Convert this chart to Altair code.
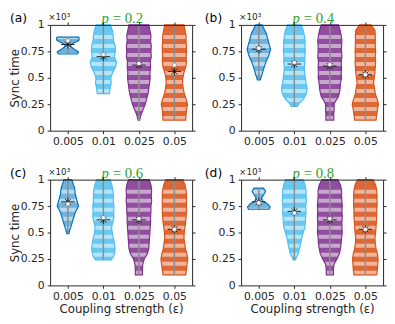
import altair as alt
import pandas as pd

CATS = ["0.005", "0.01", "0.025", "0.05"]
COLORS = ["#0072BD", "#4DBEEE", "#7E2F8E", "#D95319"]
FILL_ALPHA = [0.55, 0.85, 0.85, 0.88]
TAGS = ["(a)", "(b)", "(c)", "(d)"]
P_VALUES = ["0.2", "0.4", "0.6", "0.8"]
GREEN = "#2ca02c"
INK = "#262626"

Y_TICKS = [0, 0.25, 0.5, 0.75, 1]
# light stripes (dense-value gaps) shared by all violins, in units of 10^3
STRIPES = [0.12, 0.205, 0.29, 0.375, 0.46, 0.545, 0.63, 0.715, 0.80, 0.885]

Y19 = [0.10, 0.15, 0.20, 0.25, 0.30, 0.35, 0.40, 0.45, 0.50, 0.55,
       0.60, 0.65, 0.70, 0.75, 0.80, 0.85, 0.90, 0.95, 1.0]

# ---- panel (a), p = 0.2 ----
Y_A = [
    [0.725, 0.745, 0.77, 0.80, 0.83, 0.855, 0.875, 0.885],
    [0.35, 0.40, 0.45, 0.50, 0.55, 0.60, 0.65, 0.70, 0.75, 0.80, 0.85, 0.90, 0.95, 1.0],
    Y19,
    Y19,
]
HW_A = [
    [0.27, 0.30, 0.18, 0.06, 0.16, 0.31, 0.32, 0.30],
    [0.17, 0.19, 0.22, 0.21, 0.26, 0.34, 0.37, 0.31, 0.34, 0.33, 0.29, 0.28, 0.25, 0.20],
    [0.02, 0.06, 0.12, 0.18, 0.22, 0.26, 0.28, 0.30, 0.32, 0.31, 0.33, 0.32, 0.35, 0.34, 0.35, 0.33, 0.34, 0.31, 0.28],
    [0.32, 0.33, 0.34, 0.37, 0.33, 0.28, 0.25, 0.23, 0.24, 0.27, 0.32, 0.34, 0.33, 0.34, 0.34, 0.33, 0.33, 0.30, 0.27],
]
MEAN_A = [0.815, 0.70, 0.62, 0.56]
MED_A = [0.85, 0.72, 0.635, 0.62]

# ---- panel (b), p = 0.4 ----
Y_B = [
    [0.48, 0.52, 0.58, 0.65, 0.71, 0.77, 0.83, 0.88, 0.92, 0.96, 1.0],
    [0.23, 0.26, 0.30, 0.35, 0.40, 0.45, 0.50, 0.55, 0.60, 0.65, 0.70, 0.75, 0.80, 0.85, 0.90, 0.95, 1.0],
    [0.10, 0.15, 0.20, 0.25, 0.28, 0.32, 0.36, 0.40, 0.45, 0.50, 0.55, 0.60, 0.65, 0.70, 0.75, 0.80, 0.85, 0.90, 0.95, 1.0],
    Y19,
]
HW_B = [
    [0.04, 0.08, 0.13, 0.20, 0.28, 0.33, 0.28, 0.24, 0.21, 0.15, 0.09],
    [0.08, 0.14, 0.26, 0.34, 0.36, 0.33, 0.31, 0.29, 0.28, 0.30, 0.29, 0.31, 0.30, 0.30, 0.28, 0.25, 0.19],
    [0.11, 0.11, 0.12, 0.12, 0.16, 0.24, 0.27, 0.29, 0.30, 0.33, 0.32, 0.33, 0.32, 0.34, 0.33, 0.33, 0.34, 0.32, 0.29, 0.24],
    [0.30, 0.32, 0.34, 0.37, 0.33, 0.28, 0.26, 0.23, 0.25, 0.27, 0.28, 0.29, 0.28, 0.29, 0.28, 0.28, 0.28, 0.27, 0.16],
]
MEAN_B = [0.77, 0.63, 0.61, 0.53]
MED_B = [0.78, 0.645, 0.625, 0.53]

# ---- panel (c), p = 0.6 ----
Y_C = [
    [0.49, 0.53, 0.58, 0.64, 0.70, 0.75, 0.80, 0.86, 0.92, 0.96, 1.0],
    [0.24, 0.27, 0.30, 0.35, 0.40, 0.45, 0.50, 0.55, 0.60, 0.65, 0.70, 0.75, 0.80, 0.85, 0.90, 0.95, 1.0],
    Y19,
    Y19,
]
HW_C = [
    [0.03, 0.06, 0.11, 0.16, 0.22, 0.30, 0.26, 0.21, 0.19, 0.15, 0.11],
    [0.22, 0.28, 0.31, 0.33, 0.31, 0.28, 0.25, 0.23, 0.27, 0.30, 0.29, 0.30, 0.28, 0.28, 0.27, 0.24, 0.19],
    [0.10, 0.10, 0.11, 0.15, 0.24, 0.28, 0.29, 0.30, 0.31, 0.32, 0.33, 0.33, 0.34, 0.34, 0.36, 0.35, 0.36, 0.34, 0.29],
    [0.32, 0.34, 0.36, 0.38, 0.35, 0.31, 0.29, 0.27, 0.28, 0.30, 0.32, 0.33, 0.34, 0.34, 0.34, 0.34, 0.33, 0.30, 0.24],
]
MEAN_C = [0.79, 0.62, 0.62, 0.53]
MED_C = [0.77, 0.64, 0.63, 0.53]

# ---- panel (d), p = 0.8 ----
Y_D = [
    [0.72, 0.74, 0.77, 0.80, 0.83, 0.86, 0.89, 0.92],
    [0.24, 0.27, 0.30, 0.35, 0.40, 0.45, 0.50, 0.55, 0.60, 0.65, 0.70, 0.75, 0.80, 0.85, 0.90, 0.95, 1.0],
    Y19,
    Y19,
]
HW_D = [
    [0.29, 0.32, 0.25, 0.10, 0.08, 0.14, 0.19, 0.13],
    [0.03, 0.07, 0.11, 0.15, 0.18, 0.21, 0.25, 0.30, 0.31, 0.32, 0.33, 0.32, 0.34, 0.33, 0.33, 0.30, 0.25],
    [0.10, 0.10, 0.12, 0.20, 0.27, 0.30, 0.32, 0.33, 0.35, 0.34, 0.34, 0.35, 0.34, 0.35, 0.34, 0.33, 0.33, 0.30, 0.22],
    [0.32, 0.34, 0.35, 0.36, 0.34, 0.30, 0.28, 0.27, 0.29, 0.30, 0.31, 0.32, 0.32, 0.33, 0.33, 0.33, 0.32, 0.29, 0.22],
]
MEAN_D = [0.79, 0.70, 0.62, 0.53]
MED_D = [0.78, 0.685, 0.63, 0.53]

W, H = 145, 108
ASTERISK = "M-1.6,0L1.6,0M0,-1L0,1M-0.7,-0.7L0.7,0.7M-0.7,0.7L0.7,-0.7"

xscale = alt.Scale(domain=[0.5, 4.5], nice=False, zero=False)
yscale = alt.Scale(domain=[0, 1], nice=False, zero=False)
cscale = alt.Scale(domain=CATS, range=COLORS)
label_expr = "[" + ",".join("'%s'" % c for c in CATS) + "][datum.value - 1]"


def panel(k, ys, hws, means, meds, left_col, bottom_row):
    rows, rng = [], []
    for c in range(4):
        for y, h in zip(ys[c], hws[c]):
            rows.append({"cat": CATS[c], "y": y, "lo": c + 1 - h, "hi": c + 1 + h,
                         "alpha": FILL_ALPHA[c]})
        rng.append({"cat": CATS[c], "pos": c + 1, "ymin": min(ys[c]), "ymax": max(ys[c]),
                    "mean": means[c], "med": meds[c]})
    df = pd.DataFrame(rows)
    dr = pd.DataFrame(rng)

    x_axis = alt.Axis(orient="bottom", values=[1, 2, 3, 4], labelExpr=label_expr,
                      title="Coupling strength (ε)" if bottom_row else "",
                      labelFlush=False, zindex=1)
    y_axis = alt.Axis(orient="left", values=Y_TICKS, format=".2~f",
                      title="Sync time" if left_col else "",
                      titleX=-29, titleY=H / 2, zindex=1)
    top_axis = alt.Axis(orient="top", values=[1, 2, 3, 4], labels=False, title="", zindex=1)
    right_axis = alt.Axis(orient="right", values=Y_TICKS, labels=False, title="", zindex=1)

    base = alt.Chart(df)
    fill = base.mark_area(orient="horizontal", strokeWidth=0).encode(
        y=alt.Y("y:Q", scale=yscale, axis=y_axis),
        x=alt.X("lo:Q", scale=xscale, axis=x_axis),
        x2="hi:Q",
        color=alt.Color("cat:N", scale=cscale, legend=None),
        fillOpacity=alt.FillOpacity("alpha:Q", scale=None),
    )
    stripes = alt.Chart(pd.DataFrame({"s": STRIPES})).mark_rule(
        color="white", opacity=0.5, strokeWidth=4
    ).encode(y=alt.Y("s:Q", scale=yscale, axis=None))
    outline = base.mark_area(orient="horizontal", fillOpacity=0, strokeWidth=1.2).encode(
        y=alt.Y("y:Q", scale=yscale, axis=None),
        x=alt.X("lo:Q", scale=xscale, axis=None),
        x2="hi:Q",
        stroke=alt.Stroke("cat:N", scale=cscale, legend=None),
    )
    rb = alt.Chart(dr)
    center = rb.mark_rule(color="#8c8c8c", strokeWidth=1.5).encode(
        x=alt.X("pos:Q", scale=xscale, axis=top_axis),
        y=alt.Y("ymin:Q", scale=yscale, axis=right_axis),
        y2="ymax:Q",
    )
    mean = rb.mark_point(shape=ASTERISK, filled=False, color="black", strokeWidth=0.8,
                         size=75, opacity=1).encode(
        x=alt.X("pos:Q", scale=xscale, axis=None),
        y=alt.Y("mean:Q", scale=yscale, axis=None),
    )
    med = rb.mark_point(filled=True, fill="white", stroke="#7f7f7f", strokeWidth=0.6,
                        size=18, opacity=1).encode(
        x=alt.X("pos:Q", scale=xscale, axis=None),
        y=alt.Y("med:Q", scale=yscale, axis=None),
    )
    one = pd.DataFrame({"tag": [TAGS[k]], "p": ["p"], "v": ["= " + P_VALUES[k]], "e": ["×10³"]})
    tb = alt.Chart(one)
    tag = tb.mark_text(align="left", baseline="middle", fontSize=12.5, color="black",
                       x=-41 if left_col else -37, y=-7).encode(text="tag:N")
    pp = tb.mark_text(align="right", baseline="alphabetic", fontSize=15, color=GREEN,
                      font="Liberation Serif", fontStyle="italic", x=60, y=-2).encode(text="p:N")
    pv = tb.mark_text(align="left", baseline="alphabetic", fontSize=15, color=GREEN,
                      font="Liberation Serif", x=64, y=-2).encode(text="v:N")
    ex = tb.mark_text(align="left", baseline="alphabetic", fontSize=9, color=INK,
                      x=-2, y=-5).encode(text="e:N")
    return alt.layer(fill, stripes, outline, center, mean, med, tag, pp, pv, ex).properties(
        width=W, height=H
    ).resolve_axis(x="independent", y="independent")


pa = panel(0, Y_A, HW_A, MEAN_A, MED_A, True, False)
pb = panel(1, Y_B, HW_B, MEAN_B, MED_B, False, False)
pc = panel(2, Y_C, HW_C, MEAN_C, MED_C, True, True)
pd_ = panel(3, Y_D, HW_D, MEAN_D, MED_D, False, True)

chart = alt.concat(pa, pb, pc, pd_, columns=2, spacing=50, bounds="flush").properties(
    padding=0
).configure(font="DejaVu Sans").configure_view(strokeWidth=0).configure_axis(
    grid=False, domainColor=INK, domainWidth=1, tickColor=INK, tickSize=3, tickWidth=1,
    labelColor=INK, labelFontSize=11, labelFont="DejaVu Sans", labelPadding=2,
    titleColor=INK, titleFontSize=12, titleFontWeight="normal", titleFont="DejaVu Sans",
    titlePadding=3,
).configure_axisLeft(labelPadding=3)

chart.save("out.html", embed_options={"renderer": "svg", "actions": False})
